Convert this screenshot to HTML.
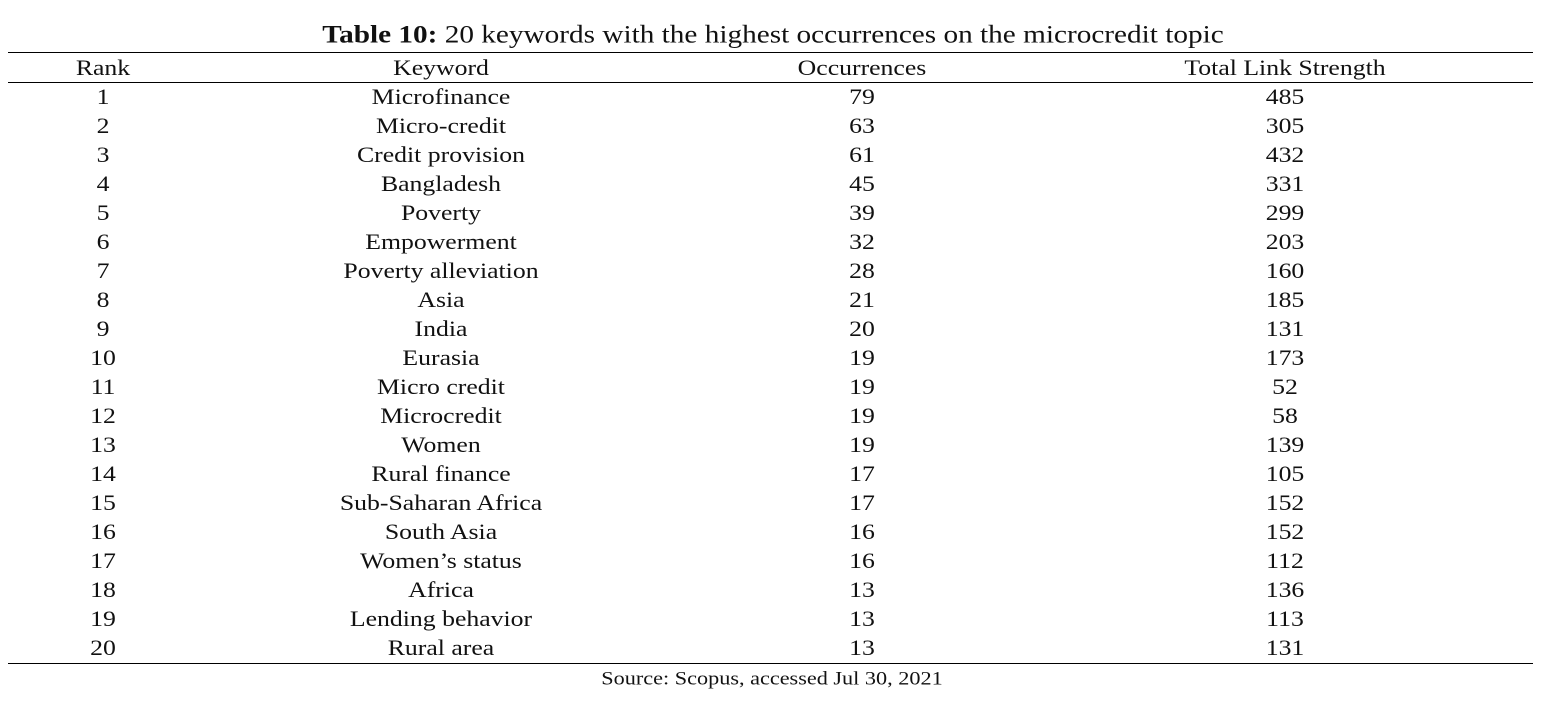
<!DOCTYPE html>
<html><head><meta charset="utf-8"><style>
body{margin:0;width:1548px;height:702px;background:#fff;position:relative;overflow:hidden;font-family:"Liberation Serif",serif;color:#111}
.t{position:absolute;white-space:nowrap;transform:translate(-50%,-50%) scaleX(1.17);font-size:22px;line-height:1}
.ln{position:absolute;left:8px;width:1525px;height:1px;background:#000}
</style></head><body>
<div class="t" style="left:773px;top:35px;font-size:25px"><b>Table 10:</b> 20 keywords with the highest occurrences on the microcredit topic</div>
<div class="ln" style="top:52px"></div>
<div class="ln" style="top:82px"></div>
<div class="ln" style="top:663px"></div>
<div class="t" style="left:103px;top:68px">Rank</div>
<div class="t" style="left:441px;top:68px">Keyword</div>
<div class="t" style="left:862px;top:68px">Occurrences</div>
<div class="t" style="left:1285px;top:68px">Total Link Strength</div>
<div class="t" style="left:772px;top:679px;font-size:19px">Source: Scopus, accessed Jul 30, 2021</div>
<script>
const keywords=["Microfinance","Micro-credit","Credit provision","Bangladesh","Poverty","Empowerment","Poverty alleviation","Asia","India","Eurasia","Micro credit","Microcredit","Women","Rural finance","Sub-Saharan Africa","South Asia","Women’s status","Africa","Lending behavior","Rural area"];
const occurrences=[79,63,61,45,39,32,28,21,20,19,19,19,19,17,17,16,16,13,13,13];
const linkStrength=[485,305,432,331,299,203,160,185,131,173,52,58,139,105,152,152,112,136,113,131];
const cols=[103,441,862,1285];
keywords.forEach((k,i)=>{
  const vals=[i+1,k,occurrences[i],linkStrength[i]];
  const names=['rank','keyword','occurrences','link-strength'];
  vals.forEach((v,j)=>{
    const d=document.createElement('div');
    d.className='t';
    d.style.left=cols[j]+'px';
    d.style.top=(97+i*29)+'px';
    d.textContent=v;
    
    
    document.body.appendChild(d);
  });
});
</script>
</body></html>
